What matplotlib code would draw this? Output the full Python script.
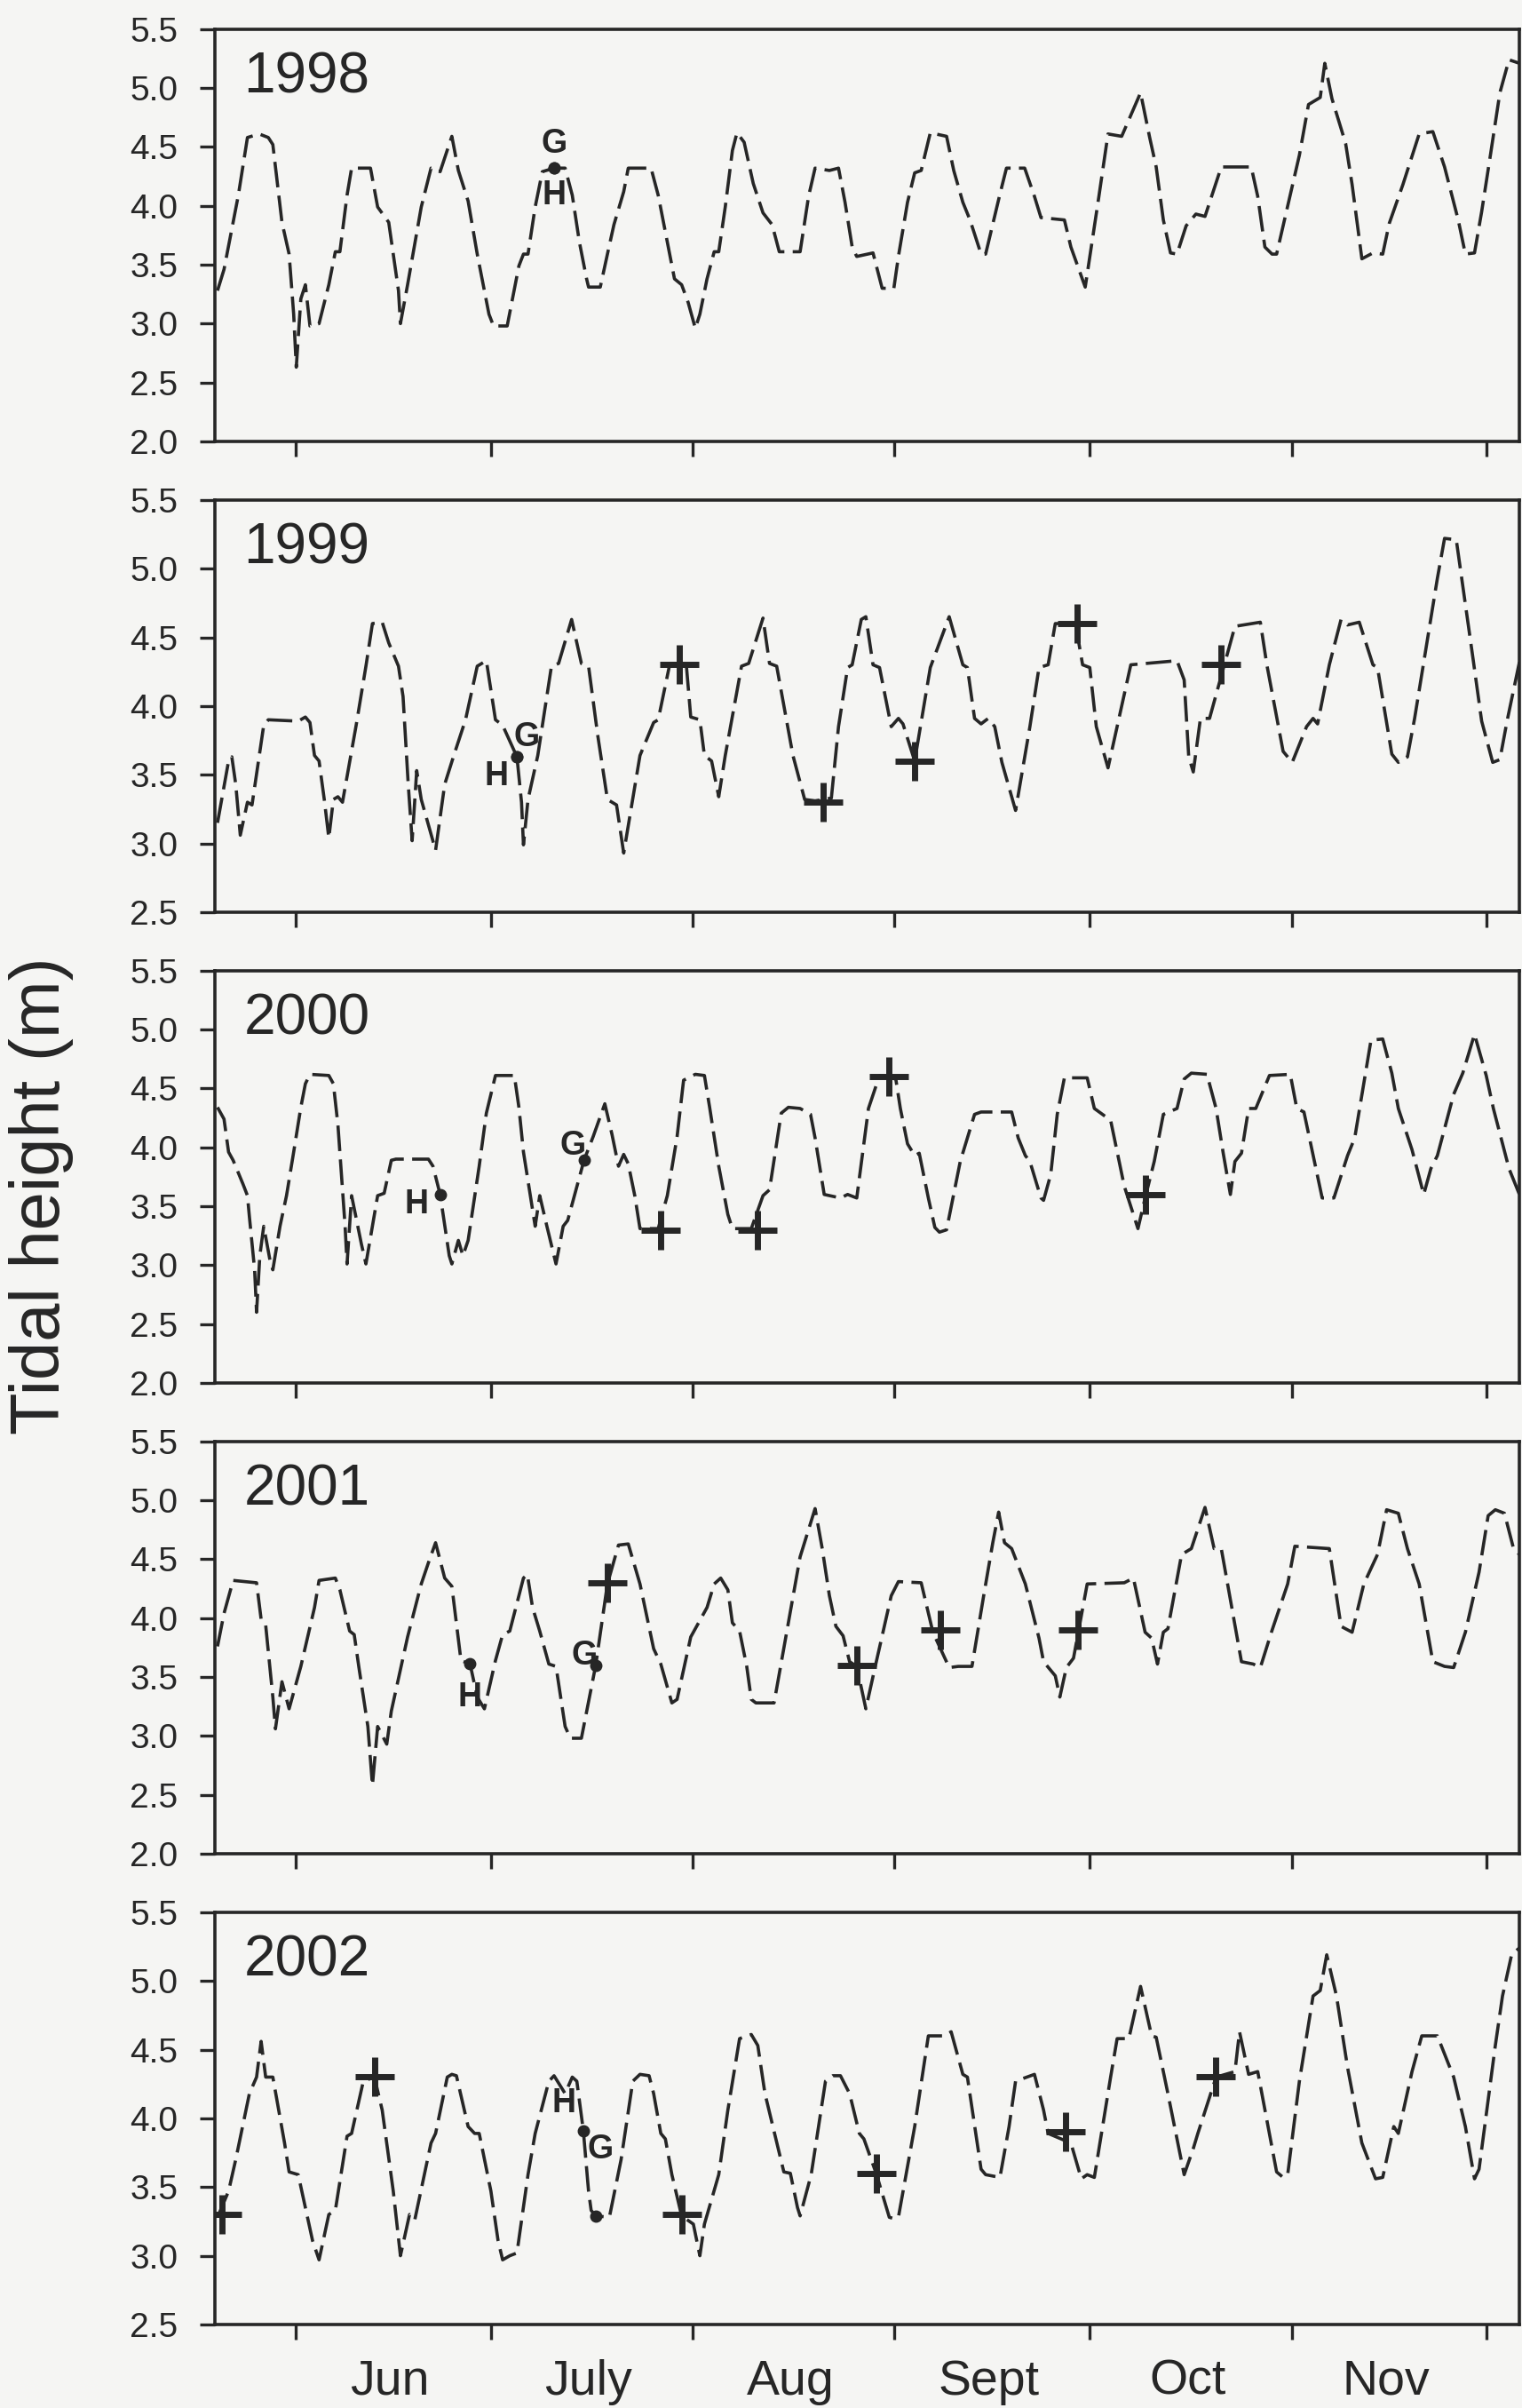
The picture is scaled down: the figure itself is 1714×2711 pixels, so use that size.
import matplotlib
matplotlib.use("Agg")
import matplotlib.pyplot as plt

plt.rcParams['font.family'] = ['Liberation Sans', 'DejaVu Sans']

# x axis: days counted from 1 June (0 = Jun 1)
month_starts = [0, 30, 61, 92, 122, 153, 183]
month_mid = [14.5, 45, 76, 106.5, 137, 167.5]
month_names = ["Jun", "July", "Aug", "Sept", "Oct", "Nov"]

years = ["1998", "1999", "2000", "2001", "2002"]
y_bottom = [2.0, 2.5, 2.0, 2.0, 2.5]

# --- daily high tide (m) ---
days_1998 = [-12.0, -11.0, -8.8, -7.4, -5.6, -4.2, -3.5, -2.1, -1.0, -0.3, 0.1, 0.8, 1.5, 2.2, 3.6,
             5.1, 6.1, 6.8, 7.9, 8.6, 11.5, 12.6, 14.3, 15.8, 16.1, 17.2, 19.3, 20.8, 22.2, 24.0,
             25.0, 26.5, 27.9, 29.7, 30.4, 32.5, 33.2, 34.3, 35.0, 35.7, 36.8, 37.9, 39.7, 41.4,
             42.5, 43.6, 44.7, 45.0, 46.8, 47.9, 48.9, 50.4, 51.1, 54.6, 55.7, 57.1, 58.2, 59.3,
             60.3, 61.4, 62.1, 63.2, 64.3, 65.0, 66.0, 67.1, 67.8, 68.9, 70.3, 71.8, 73.2, 74.3,
             77.5, 78.8, 79.8, 82.0, 83.4, 84.4, 85.5, 86.2, 88.7, 90.1, 91.9, 92.6, 94.0, 95.1,
             96.1, 97.5, 100.0, 101.1, 102.5, 103.6, 105.3, 106.0, 108.2, 109.2, 112.0, 113.5,
             114.5, 118.1, 119.1, 121.3, 123.4, 124.8, 126.9, 129.8, 131.2, 132.2, 133.3, 134.4,
             135.4, 136.8, 138.3, 139.7, 142.2, 146.8, 147.8, 148.9, 150.0, 150.7, 151.7, 154.2,
             155.6, 157.4, 158.1, 159.2, 161.3, 162.3, 163.8, 165.5, 167.0, 168.0, 170.1, 172.6,
             174.7, 176.5, 178.6, 179.7, 181.1, 182.2, 183.6, 185.0, 186.4, 188.0]
tide_1998 = [3.28, 3.46, 4.09, 4.58, 4.61, 4.58, 4.52, 3.86, 3.59, 3.08, 2.63, 3.21, 3.33, 2.98, 3.00,
             3.33, 3.61, 3.61, 4.09, 4.32, 4.32, 3.99, 3.86, 3.28, 3.00, 3.33, 3.99, 4.32, 4.29, 4.59,
             4.30, 4.04, 3.59, 3.08, 2.98, 2.98, 3.18, 3.49, 3.59, 3.59, 3.99, 4.29, 4.32, 4.32,
             4.09, 3.69, 3.38, 3.31, 3.31, 3.59, 3.84, 4.12, 4.32, 4.32, 4.09, 3.69, 3.38, 3.33,
             3.18, 2.96, 3.08, 3.38, 3.61, 3.61, 3.99, 4.47, 4.62, 4.54, 4.19, 3.94, 3.84, 3.61,
             3.61, 4.08, 4.32, 4.30, 4.32, 4.03, 3.65, 3.57, 3.60, 3.30, 3.30, 3.57, 4.03, 4.28,
             4.30, 4.62, 4.59, 4.30, 4.03, 3.88, 3.59, 3.59, 4.10, 4.32, 4.32, 4.08,
             3.90, 3.88, 3.65, 3.31, 4.08, 4.61, 4.59, 4.96, 4.58, 4.33, 3.88, 3.60,
             3.59, 3.83, 3.93, 3.91, 4.33, 4.33, 4.08, 3.65, 3.59, 3.59, 3.83, 4.43,
             4.86, 4.92, 5.21, 4.91, 4.53, 4.18, 3.55, 3.60, 3.59, 3.85, 4.18, 4.61,
             4.63, 4.33, 3.88, 3.59, 3.60, 3.95, 4.45, 4.96, 5.24, 5.21]

days_1999 = [-12.0, -10.3, -9.8, -9.2, -8.5, -7.4, -6.7, -4.9, -4.2, 0.4, 1.5, 2.2, 2.9, 3.6, 4.4,
             5.1, 5.8, 6.5, 7.2, 9.3, 10.8, 11.8, 13.3, 14.3, 15.8, 16.5, 17.3, 17.9, 18.6, 19.3,
             21.5, 22.9, 24.3, 26.1, 27.9, 29.3, 30.7, 31.8, 34.0, 34.7, 35.0, 35.7, 37.2, 39.3,
             40.4, 42.4, 43.9, 45.0, 46.4, 47.9, 49.3, 50.4, 52.9, 55.0, 55.7, 57.5, 60.0, 60.7,
             62.1, 62.8, 63.9, 65.0, 66.0, 68.5, 69.6, 71.8, 72.8, 73.9, 76.4, 78.2, 79.8, 82.3,
             83.4, 84.8, 85.5, 86.9, 87.6, 88.7, 89.7, 91.5, 92.6, 93.3, 95.1, 97.5, 100.4, 102.5,
             103.2, 104.3, 105.3, 106.4, 107.4, 108.5, 110.6, 112.8, 114.2, 115.6, 116.7, 119.8,
             120.9, 122.0, 123.0, 124.8, 126.2, 128.3, 135.4, 136.5, 137.2, 137.9, 139.0, 140.4,
             143.2, 144.3, 148.2, 149.2, 151.7, 153.1, 155.3, 156.3, 157.0, 158.8, 160.6, 161.6,
             163.4, 165.5, 166.2, 168.4, 169.4, 170.8, 171.9, 175.4, 176.5, 178.3, 180.8, 182.2,
             183.9, 185.0, 186.1, 188.0]
tide_1999 = [3.15, 3.60, 3.63, 3.43, 3.06, 3.30, 3.28, 3.86, 3.90, 3.89, 3.92, 3.88, 3.64, 3.60, 3.32,
             3.04, 3.32, 3.34, 3.30, 3.86, 4.29, 4.60, 4.61, 4.46, 4.29, 4.07, 3.43, 3.02, 3.53, 3.32,
             2.95, 3.43, 3.64, 3.90, 4.29, 4.33, 3.90, 3.86, 3.63, 3.30, 2.99, 3.32, 3.64, 4.29,
             4.31, 4.63, 4.31, 4.29, 3.79, 3.32, 3.28, 2.93, 3.64, 3.88, 3.90, 4.31, 4.31, 3.92,
             3.90, 3.64, 3.60, 3.34, 3.64, 4.29, 4.31, 4.64, 4.31, 4.29, 3.64, 3.32, 3.31, 3.33,
             3.85, 4.28, 4.30, 4.63, 4.65, 4.30, 4.28, 3.85, 3.91, 3.87, 3.60, 4.28, 4.65, 4.30,
             4.28, 3.91, 3.87, 3.91, 3.85, 3.59, 3.24, 3.85, 4.28, 4.30, 4.60, 4.60,
             4.30, 4.28, 3.85, 3.55, 3.85, 4.30, 4.33, 4.19, 3.63, 3.52, 3.91, 3.91,
             4.39, 4.58, 4.61, 4.30, 3.67, 3.59, 3.85, 3.91, 3.87, 4.30, 4.63, 4.59,
             4.61, 4.30, 4.28, 3.65, 3.59, 3.63, 3.91, 4.93, 5.22, 5.21, 4.37, 3.89,
             3.59, 3.61, 3.89, 4.32]

days_2000 = [-12.0, -11.0, -10.3, -9.6, -8.1, -7.4, -7.1, -6.3, -6.0, -5.5, -4.9, -3.9, -3.5, -2.4,
             -1.4, -0.3, 0.8, 1.5, 2.2, 5.1, 5.8, 6.5, 7.6, 7.9, 8.6, 10.1, 10.8, 12.6, 13.6, 14.7,
             15.4, 20.4, 21.1, 22.2, 23.6, 24.0, 25.0, 25.7, 26.5, 28.2, 29.3, 30.7, 33.6, 34.3,
             35.0, 36.8, 37.5, 38.6, 40.0, 41.1, 41.8, 44.3, 45.7, 47.5, 48.6, 49.6, 50.4, 51.1,
             52.1, 52.9, 55.7, 57.1, 58.6, 59.6, 61.4, 62.8, 63.6, 65.0, 66.4, 67.1, 70.0, 71.8,
             72.8, 74.6, 75.7, 77.5, 79.1, 79.8, 81.2, 83.7, 84.8, 86.2, 88.0, 89.7, 92.2, 92.9,
             94.0, 95.1, 95.8, 97.2, 98.2, 98.9, 100.0, 102.1, 104.3, 105.3, 110.0, 111.0, 112.1,
             112.8, 114.5, 114.9, 116.0, 117.0, 118.1, 121.6, 122.7, 125.2, 127.3, 129.4, 130.5,
             131.9, 133.3, 135.4, 136.5, 137.6, 140.0, 141.4, 142.5, 143.6, 144.3, 145.3, 146.4,
             147.5, 149.6, 152.8, 153.8, 154.9, 157.7, 159.5, 161.6, 162.7, 165.2, 167.0, 168.4,
             169.4, 171.5, 173.3, 174.4, 175.4, 177.9, 179.3, 181.1, 182.9, 184.0, 186.4, 188.0]
tide_2000 = [4.34, 4.24, 3.96, 3.89, 3.69, 3.59, 3.41, 2.96, 2.60, 3.08, 3.33, 3.03, 2.96, 3.33,
             3.59, 3.96, 4.34, 4.54, 4.62, 4.61, 4.54, 4.19, 3.33, 3.01, 3.59, 3.18, 3.01, 3.59, 3.61, 3.89,
             3.90, 3.90, 3.84, 3.60, 3.08, 3.01, 3.21, 3.08, 3.21, 3.84, 4.29, 4.61, 4.61, 4.34,
             3.96, 3.33, 3.59, 3.33, 3.01, 3.33, 3.38, 3.89, 4.09, 4.37, 4.11, 3.84, 3.94, 3.86,
             3.59, 3.31, 3.31, 3.59, 4.09, 4.57, 4.62, 4.61, 4.34, 3.84, 3.43, 3.31, 3.31, 3.59,
             3.64, 4.29, 4.34, 4.33, 4.28, 4.08, 3.60, 3.57, 3.60, 3.57, 4.33, 4.61, 4.58, 4.33,
             4.03, 3.93, 3.95, 3.57, 3.32, 3.28, 3.30, 3.88, 4.28, 4.30, 4.30, 4.08, 3.93,
             3.88, 3.57, 3.55, 3.77, 4.28, 4.59, 4.59, 4.33, 4.23, 3.67, 3.31, 3.57,
             3.88, 4.28, 4.33, 4.58, 4.63, 4.62, 4.33, 3.95, 3.60, 3.88, 3.95, 4.33,
             4.33, 4.61, 4.62, 4.33, 4.30, 3.57, 3.57, 3.93, 4.08, 4.91, 4.92, 4.63,
             4.33, 3.98, 3.60, 3.82, 3.93, 4.45, 4.63, 4.96, 4.61, 4.33, 3.82, 3.60]

days_2001 = [-12.0, -11.0, -9.6, -6.0, -5.3, -4.6, -3.5, -3.1, -2.1, -1.0, 0.8, 2.9, 3.6, 6.1, 6.8,
             8.3, 9.0, 9.7, 11.1, 11.8, 12.6, 14.0, 14.7, 17.2, 19.3, 20.4, 21.5, 22.9, 24.0, 25.4,
             26.8, 27.9, 29.0, 30.7, 31.8, 32.9, 35.0, 35.6, 36.4, 37.5, 38.9, 40.0, 41.4, 42.2,
             43.9, 46.1, 47.9, 49.6, 51.1, 52.9, 55.0, 56.1, 57.8, 58.6, 60.7, 63.2, 64.3, 65.3,
             66.4, 67.1, 68.2, 69.3, 70.0, 70.7, 73.5, 75.3, 77.5, 79.8, 80.9, 82.0, 83.0, 84.1,
             85.1, 86.2, 87.6, 89.0, 91.5, 92.6, 96.1, 97.9, 100.4, 101.8, 103.9, 105.7, 107.1,
             108.0, 108.9, 110.0, 112.1, 114.2, 114.9, 116.7, 117.4, 118.4, 119.5, 121.6, 127.3,
             128.7, 130.5, 131.5, 132.4, 133.3, 134.0, 136.1, 137.6, 139.7, 141.1, 142.2, 145.3,
             147.1, 148.2, 149.9, 152.4, 153.5, 158.8, 160.6, 162.3, 164.1, 166.2, 167.6, 169.4,
             170.8, 172.6, 174.7, 176.5, 177.9, 179.7, 181.8, 183.2, 184.3, 185.7, 187.1, 188.0]
tide_2001 = [3.76, 4.04, 4.32, 4.30, 3.99, 3.94, 3.33, 3.06, 3.46, 3.23, 3.59, 4.09, 4.32, 4.34, 4.24,
             3.89, 3.86, 3.59, 3.08, 2.58, 3.08, 2.93, 3.21, 3.84, 4.29, 4.47, 4.64, 4.34, 4.27, 3.64,
             3.61, 3.33, 3.23, 3.64, 3.86, 3.89, 4.34, 4.37, 4.09, 3.89, 3.61, 3.59, 3.08, 2.98,
             2.98, 3.60, 4.29, 4.62, 4.63, 4.29, 3.74, 3.61, 3.28, 3.31, 3.84, 4.09, 4.29, 4.34,
             4.24, 3.96, 3.89, 3.59, 3.31, 3.28, 3.28, 3.84, 4.52, 4.93, 4.59, 4.19, 3.93, 3.85,
             3.63, 3.59, 3.23, 3.58, 4.19, 4.31, 4.30, 3.88, 3.58, 3.59, 3.59, 4.19, 4.64,
             4.90, 4.64, 4.59, 4.29, 3.83, 3.63, 3.51, 3.33, 3.58, 3.66, 4.29, 4.30,
             4.34, 3.88, 3.83, 3.61, 3.88, 3.91, 4.54, 4.59, 4.94, 4.59, 4.59, 3.63,
             3.61, 3.58, 3.88, 4.29, 4.61, 4.59, 3.93, 3.88, 4.29, 4.54, 4.92, 4.89,
             4.59, 4.29, 3.63, 3.59, 3.58, 3.88, 4.39, 4.87, 4.92, 4.89, 4.59, 4.54]

days_2002 = [-12.0, -10.3, -9.2, -7.1, -6.0, -5.3, -4.6, -3.5, -1.7, -1.0, 0.4, 2.6, 3.6, 5.1, 6.1,
             7.9, 8.6, 10.4, 12.1, 13.3, 15.0, 16.1, 17.5, 18.3, 20.8, 21.5, 23.3, 24.0, 24.7, 26.5,
             27.5, 28.2, 30.0, 31.1, 31.8, 32.9, 34.0, 35.7, 36.8, 38.9, 39.7, 41.4, 42.5, 43.2,
             44.2, 45.0, 45.4, 46.1, 48.2, 50.0, 51.8, 52.9, 54.3, 55.0, 56.1, 56.8, 57.8, 59.3,
             61.1, 62.1, 62.8, 65.0, 66.4, 68.2, 70.0, 71.0, 72.1, 75.0, 76.0, 77.1, 77.5, 79.2,
             81.4, 82.5, 83.7, 85.1, 86.6, 87.3, 89.25, 91.2, 91.9, 92.6, 95.1, 97.2, 99.7, 100.7,
             102.5, 103.2, 105.3, 106.0, 108.2, 109.6, 110.6, 113.5, 114.9, 115.6, 119.1, 120.7,
             121.6, 122.7, 125.2, 126.2, 128.0, 129.8, 131.5, 132.2, 134.0, 136.5, 137.9, 138.6,
             141.4, 144.3, 145.0, 146.4, 147.8, 150.7, 151.7, 152.4, 154.2, 156.3, 157.4, 158.4,
             159.9, 161.6, 163.8, 165.9, 167.0, 168.7, 169.4, 171.5, 173.0, 175.4, 177.9, 179.7,
             181.1, 181.8, 184.3, 185.4, 186.8, 188.0]
tide_2002 = [3.28, 3.47, 3.70, 4.18, 4.30, 4.56, 4.30, 4.30, 3.82, 3.61, 3.59, 3.11, 2.97, 3.30, 3.33,
             3.87, 3.89, 4.27, 4.30, 4.06, 3.47, 3.00, 3.30, 3.26, 3.82, 3.89, 4.30, 4.32, 4.31, 3.94,
             3.89, 3.89, 3.47, 3.11, 2.97, 3.00, 3.02, 3.59, 3.89, 4.27, 4.31, 4.18, 4.30, 4.27,
             3.91, 3.47, 3.33, 3.29, 3.28, 3.70, 4.27, 4.32, 4.31, 4.18, 3.89, 3.85, 3.59, 3.29,
             3.23, 3.00, 3.23, 3.59, 4.06, 4.58, 4.61, 4.53, 4.18, 3.61, 3.60, 3.35, 3.29, 3.59,
             4.27, 4.31, 4.31, 4.18, 3.89, 3.85, 3.59, 3.28, 3.27, 3.28, 3.94, 4.60, 4.60, 4.63,
             4.32, 4.30, 3.63, 3.59, 3.57, 3.94, 4.27, 4.32, 4.06, 3.89, 3.82, 3.56,
             3.59, 3.57, 4.30, 4.58, 4.58, 4.96, 4.60, 4.59, 4.18, 3.59, 3.78, 3.89,
             4.30, 4.34, 4.63, 4.32, 4.34, 3.61, 3.57, 3.59, 4.27, 4.89, 4.93, 5.19,
             4.89, 4.37, 3.82, 3.56, 3.57, 3.94, 3.89, 4.34, 4.60, 4.60, 4.30, 3.94,
             3.56, 3.63, 4.53, 4.89, 5.19, 5.24]

# crosses (+) on each panel
cross_days = [[], [58.9, 81.0, 95.1, 120.0, 142.2], [56.1, 71.0, 91.2, 130.5],
              [47.9, 86.2, 99.0, 120.2], [-11.3, 12.1, 59.3, 89.25, 118.3, 141.4]]
cross_tide = [[], [4.3, 3.3, 3.6, 4.6, 4.3], [3.3, 3.3, 4.6, 3.6],
              [4.3, 3.6, 3.9, 3.9], [3.3, 4.3, 3.3, 3.6, 3.9, 4.3]]

# labelled points (H and G)
point_names = [["G", "H"], ["H", "G"], ["H", "G"], ["H", "G"], ["H", "G"]]
point_days = [[39.7, 39.7], [34.0, 34.0], [22.2, 44.3], [26.8, 46.1], [44.2, 46.1]]
point_tide = [[4.32, 4.32], [3.63, 3.63], [3.60, 3.89], [3.61, 3.60], [3.91, 3.29]]
# label offsets from the point, in points
label_offsets = [[(0, 20), (0, -22)], [(-17, -16), (8, 16)], [(-19, -8), (-9, 12)],
                 [(0, -27), (-9, 8)], [(-16, 22), (4, 54)]]

all_days = [days_1998, days_1999, days_2000, days_2001, days_2002]
all_tide = [tide_1998, tide_1999, tide_2000, tide_2001, tide_2002]

ink = "#262626"
paper = "#f5f5f3"

fig = plt.figure(figsize=(17.14, 27.11), dpi=100, facecolor=paper)
bottoms = [0.8167, 0.6212, 0.4257, 0.2302, 0.0347]

for i, yr in enumerate(years):
    ax = fig.add_axes([0.1412, bottoms[i], 0.8571, 0.1712], facecolor=paper)
    ax.plot(all_days[i], all_tide[i], color=ink, linewidth=2.6, dashes=(8, 2.6))
    if cross_days[i]:
        ax.plot(cross_days[i], cross_tide[i], linestyle="none", marker="+",
                markersize=32, markeredgewidth=5, color=ink)
    ax.plot(point_days[i], point_tide[i], linestyle="none", marker="o",
            markersize=9, color=ink)
    for name, d, t, off in zip(point_names[i], point_days[i], point_tide[i], label_offsets[i]):
        ax.annotate(name, (d, t), xytext=off, textcoords="offset points",
                    ha="center", va="center", fontsize=27, fontweight="bold", color=ink)

    ax.text(0.022, 0.946, yr, transform=ax.transAxes, ha="left", va="top",
            fontsize=46, color=ink)

    ax.set_xlim(-12.4, 188.0)
    ax.set_ylim(y_bottom[i], 5.5)
    yt = [y_bottom[i] + 0.5 * k for k in range(int(round((5.5 - y_bottom[i]) / 0.5)) + 1)]
    ax.set_yticks(yt)
    ax.set_yticklabels([f"{v:.1f}" for v in yt])
    ax.set_xticks(month_starts)
    ax.set_xticklabels([])
    if i == len(years) - 1:
        ax.set_xticks(month_mid, minor=True)
        ax.set_xticklabels(month_names, minor=True)
        ax.tick_params(axis="x", which="minor", length=0, pad=28, labelsize=40,
                       labelcolor=ink)

    for s in ax.spines.values():
        s.set_linewidth(2.6)
        s.set_color(ink)
    ax.tick_params(axis="both", which="major", direction="out", length=12, width=2.4,
                   color=ink, labelcolor=ink, labelsize=28)
    ax.tick_params(axis="y", which="major", pad=18)
    ax.tick_params(top=False, right=False)

fig.text(0.0274, 0.5035, "Tidal height (m)", rotation=90, ha="center", va="center",
         fontsize=56, color=ink)

fig.savefig("out.png", dpi=100, facecolor=paper)
